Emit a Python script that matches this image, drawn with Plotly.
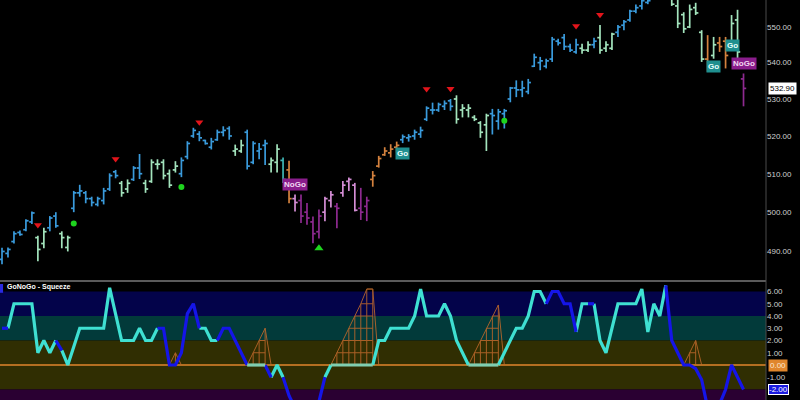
import math
import plotly.graph_objects as go

# ---------------- price data (one value per daily bar) ----------------
highs = [490.9, 491.0, 495.1, 495.3, 498.2, 500.2, 494.0, 496.0, 499.0, 500.0,
         495.1, 494.0, 505.5, 507.1, 505.5, 504.0, 504.0, 506.3, 510.1, 511.0,
         508.1, 508.5, 512.0, 515.2, 508.4, 513.8, 513.8, 513.8, 511.1, 513.3,
         514.3, 518.6, 522.2, 521.3, 519.0, 519.5, 521.7, 522.6, 522.6, 517.7,
         519.0, 521.7, 518.6, 518.1, 519.0, 514.3, 517.8, 514.3, 513.4, 504.6,
         504.6, 502.4, 498.9, 500.7, 504.0, 505.5, 502.4, 508.1, 509.0, 507.6,
         506.3, 504.0, 510.7, 514.7, 517.0, 517.8, 518.5, 520.4, 520.5, 521.7,
         522.5, 528.0, 529.0, 529.0, 529.6, 530.0, 531.0, 528.6, 528.6, 525.6,
         524.0, 526.0, 527.3, 527.3, 527.3, 533.3, 535.1, 535.0, 535.5, 542.5,
         541.6, 541.1, 547.2, 546.7, 548.0, 545.3, 546.7, 545.3, 546.0, 547.0,
         550.6, 546.0, 548.4, 550.6, 552.0, 554.9, 556.4, 558.5, 559.5, 562.0,
         563.0, 565.0, 562.0, 558.0, 554.2, 556.4, 556.9, 549.1, 547.7, 547.2,
         547.2, 547.2, 553.4, 554.9, 537.0]
lows = [486.8, 488.5, 492.0, 494.0, 495.1, 497.0, 487.5, 490.8, 495.1, 496.0,
        490.8, 490.0, 500.0, 504.0, 502.3, 501.5, 501.5, 502.0, 505.5, 508.8,
        504.0, 505.0, 508.1, 508.6, 505.0, 507.6, 511.1, 508.5, 506.3, 510.3,
        509.1, 513.8, 519.5, 518.6, 517.7, 516.4, 518.7, 519.9, 519.0, 514.7,
        515.5, 511.1, 512.5, 513.8, 512.3, 510.3, 510.3, 507.6, 502.3, 500.2,
        497.2, 496.8, 492.1, 493.3, 497.7, 501.2, 495.9, 504.0, 505.5, 500.2,
        498.0, 497.7, 506.6, 511.6, 514.7, 514.3, 515.5, 518.1, 518.5, 519.0,
        519.5, 524.0, 525.8, 526.5, 527.0, 526.8, 523.3, 525.0, 525.0, 524.0,
        519.5, 516.0, 520.4, 521.7, 522.0, 529.1, 530.5, 530.5, 531.3, 538.8,
        537.9, 538.4, 540.2, 544.8, 543.5, 543.0, 542.5, 542.5, 543.0, 544.0,
        542.5, 543.0, 543.5, 547.2, 549.1, 551.5, 553.9, 555.0, 556.5, 558.0,
        559.0, 560.0, 556.0, 549.7, 548.3, 549.7, 553.4, 540.2, 537.5, 541.1,
        543.0, 538.4, 545.3, 540.2, 528.0]
opens = [488.0, 489.5, 492.5, 494.8, 495.5, 497.5, 493.5, 492.0, 496.0, 499.0,
         494.5, 491.0, 501.0, 505.0, 505.0, 503.5, 502.0, 503.0, 506.0, 510.5,
         507.5, 506.0, 508.5, 511.5, 507.5, 508.0, 512.5, 513.0, 510.0, 511.0,
         510.0, 514.5, 520.0, 520.5, 518.8, 517.0, 519.0, 521.0, 522.0, 516.0,
         516.0, 521.0, 513.0, 516.0, 517.5, 512.5, 513.0, 513.5, 511.0, 503.5,
         503.0, 500.0, 497.5, 495.0, 500.0, 503.0, 501.5, 505.0, 508.0, 507.0,
         501.0, 501.5, 508.5, 512.0, 515.0, 515.5, 517.0, 519.0, 519.5, 520.0,
         520.5, 524.5, 527.0, 527.0, 528.0, 529.5, 530.0, 527.0, 527.0, 525.0,
         523.5, 523.0, 526.0, 524.0, 526.0, 530.0, 533.0, 532.5, 532.0, 539.0,
         540.0, 539.0, 541.0, 546.0, 547.0, 544.5, 543.0, 544.0, 543.5, 545.0,
         547.0, 544.0, 544.0, 548.5, 550.5, 552.0, 554.5, 556.0, 557.0, 558.5,
         560.0, 561.0, 559.0, 556.0, 553.5, 550.0, 555.5, 548.5, 541.0, 542.0,
         545.5, 546.0, 546.0, 552.0, 535.5]
closes = [490.0, 490.5, 494.5, 494.3, 497.8, 499.8, 490.5, 495.0, 498.5, 496.5,
          493.5, 493.5, 505.0, 505.5, 503.5, 502.5, 503.5, 505.5, 509.5, 509.5,
          505.0, 507.5, 511.5, 510.0, 506.0, 513.0, 512.5, 509.5, 507.0, 512.0,
          513.5, 518.0, 521.5, 519.5, 518.0, 518.5, 521.0, 521.5, 520.0, 516.5,
          517.5, 512.0, 518.0, 516.5, 518.0, 513.5, 516.5, 508.5, 503.5, 502.5,
          499.0, 498.5, 494.5, 499.0, 503.5, 504.5, 501.0, 507.0, 508.5, 500.5,
          500.0, 503.0, 509.5, 514.0, 516.0, 516.5, 517.5, 519.8, 519.8, 521.0,
          521.5, 527.5, 527.0, 528.5, 528.8, 528.0, 524.5, 527.5, 527.5, 524.5,
          521.0, 525.5, 525.5, 526.5, 526.8, 533.0, 532.5, 533.0, 534.5, 541.5,
          540.5, 540.5, 546.5, 545.5, 544.5, 543.5, 545.0, 543.5, 545.0, 546.0,
          543.5, 545.0, 548.0, 550.0, 551.5, 554.5, 555.5, 557.5, 557.5, 560.0,
          561.5, 562.0, 556.5, 551.0, 549.5, 555.0, 554.0, 541.0, 538.5, 545.0,
          544.5, 542.0, 551.0, 543.0, 532.9]
# GoNoGo trend colour of each bar: b=Go, g=Go fading, a=aqua, o=amber, p=NoGo, l=NoGo fading
bar_state = list("bbbbbb" "gg" "bb" "gg" "bbbbbbbb" "gg" "bb" "gggggg" "bbbbbbbbb" "gg"
                 "bbbb" "gg" "a" "o" "l" "pppp" "ll" "p" "lll" "pp" "ooooo" "bbbbbbbbb"
                 "gggggg" "bbbbbbbbbbbbbbb" "gg" "b" "ggg" "bbbbbbbbb" "gggggg" "o" "g" "oo"
                 "gg" "p")

# signal markers (bar index, price level)
sell_idx = [6, 19, 33, 71, 75, 96, 100]
sell_px = [496.7, 513.9, 523.7, 532.7, 532.8, 550.3, 553.5]
dot_idx = [12, 30, 84]
dot_px = [497.1, 506.5, 524.1]
buy_idx = [53]
buy_px = [490.8]

# Go / NoGo flags (bar index, price level)
flag_text = ["NoGo", "Go", "Go", "Go", "NoGo"]
flag_idx = [49.0, 66.9, 119.0, 122.2, 124.1]
flag_px = [507.3, 515.4, 539.0, 544.9, 539.7]

price_ticks = [490, 500, 510, 520, 530, 540, 550]
last_close = 532.90

# ---------------- oscillator ----------------
osc = [3, 3, 5, 5, 5, 5, 1, 2, 1, 2,
       1.2, 0, 1.5, 3, 3, 3, 3, 3, 6.3, 4.2,
       2, 2, 2, 3, 2, 2, 3, 3, 0, 0,
       1, 4.2, 5, 3, 3, 2, 2, 3, 3, 2,
       1, 0, 0, 0, 0, -1, 0, -1, -2.5, -3.5,
       -4, -4, -3.8, -3, -1, 0, 0, 0, 0, 0,
       0, 0, 0, 2, 2, 3, 3, 3, 3, 4,
       6.2, 4, 4, 4, 5, 4, 2, 1, 0, 0,
       0, 0, 0, 0, 1, 2, 3, 3, 4, 6,
       6, 5, 6, 6, 5, 5, 2.7, 5, 5, 5,
       2, 1, 3, 5, 5, 5, 5, 6.2, 2.7, 5,
       4, 6.5, 2, 1, 0, 0, -0.3, -1.2, -3.5, -3.8,
       -3.2, -2, 0, -1, -2]
# colour of the segment that ends at each point: c=cyan, b=blue, g=pale (flat at zero)
osc_seg = list("b" + "b" + "c" * 8 + "b" + "c" * 16 + "b" * 7 + "c" * 3 + "b" * 5 + "g" * 3 + "b" +
               "c" * 2 + "b" * 7 + "c" + "g" * 7 + "c" * 16 + "g" * 5 + "c" * 8 + "b" * 5 + "c" * 2 +
               "b" + "c" * 12 + "b" * 13)
# squeeze ladder height per bar
squeeze_idx = [29, 42, 43, 44, 56, 57, 58, 59, 60, 61, 62, 79, 80, 81, 82, 83, 115, 116]
squeeze_val = [1, 1, 2, 3, 1, 2, 3, 4, 5, 6.2, 6.2, 1, 2, 3, 4, 4.9, 1, 2]

osc_ticks = [6, 5, 4, 3, 2, 1, -1]

# ---------------- figure ----------------
N = len(closes)
assert len(bar_state) == N and len(osc) == N and len(osc_seg) == N
squeeze = [None] * N
for k, v in zip(squeeze_idx, squeeze_val):
    squeeze[k] = v

XR = [-0.334, 127.76]
TOP = [0.2975, 1.0]
BOT = [0.0, 0.2925]
FONT = "Arial"

BAR_COLORS = {"b": "#3a9bdc", "g": "#a3e4bd", "a": "#3fb6b6", "o": "#d4823e",
              "p": "#8e2a90", "l": "#d58ed6"}
OSC_COLORS = {"c": "#3fe0d2", "b": "#1515e8", "g": "#7fceb0"}

fig = go.Figure()

# price bars
for code, col in BAR_COLORS.items():
    xs, ys = [], []
    for i in range(N):
        if bar_state[i] != code:
            continue
        xs += [i, i, None, i - 0.45, i, None, i, i + 0.45, None]
        ys += [lows[i], highs[i], None, opens[i], opens[i], None, closes[i], closes[i], None]
    if xs:
        fig.add_trace(go.Scatter(x=xs, y=ys, mode="lines", line=dict(color=col, width=1.7),
                                 hoverinfo="skip", showlegend=False, xaxis="x", yaxis="y"))

fig.add_trace(go.Scatter(x=sell_idx, y=sell_px, mode="markers",
                         marker=dict(symbol="triangle-down", size=7, color="#e3141b"),
                         hoverinfo="skip", showlegend=False, xaxis="x", yaxis="y"))
fig.add_trace(go.Scatter(x=dot_idx, y=dot_px, mode="markers",
                         marker=dict(symbol="circle", size=6, color="#1ed41e"),
                         hoverinfo="skip", showlegend=False, xaxis="x", yaxis="y"))
fig.add_trace(go.Scatter(x=buy_idx, y=buy_px, mode="markers",
                         marker=dict(symbol="triangle-up", size=8, color="#1ed41e"),
                         hoverinfo="skip", showlegend=False, xaxis="x", yaxis="y"))

# squeeze ladder
lx, ly = [], []
i = 0
while i < N:
    if squeeze[i] is None:
        i += 1
        continue
    s = i
    while i < N and squeeze[i] is not None:
        i += 1
    e = i - 1
    lx += [s - 1] + list(range(s, e + 1)) + [e + 1, None]
    ly += [0] + [squeeze[k] for k in range(s, e + 1)] + [0, None]
    for k in range(s, e + 1):
        lx += [k, k, None, k, e, None]
        ly += [0, squeeze[k], None, squeeze[k], squeeze[k], None]
fig.add_trace(go.Scatter(x=lx, y=ly, mode="lines", line=dict(color="#c06a2c", width=1),
                         opacity=0.85, hoverinfo="skip", showlegend=False,
                         xaxis="x2", yaxis="y2"))

# oscillator line, coloured runs
for code, col in OSC_COLORS.items():
    xs, ys = [], []
    k = 1
    while k < N:
        if osc_seg[k] != code:
            k += 1
            continue
        s = k - 1
        while k < N and osc_seg[k] == code:
            k += 1
        for j in range(s, k):
            xs.append(j)
            ys.append(osc[j])
        xs.append(None)
        ys.append(None)
    fig.add_trace(go.Scatter(x=xs, y=ys, mode="lines", line=dict(color=col, width=3.2),
                             hoverinfo="skip", showlegend=False, xaxis="x2", yaxis="y2"))

# bands
shapes = []
for y0, y1, col in [(4, 6, "#03034a"), (2, 4, "#023a3a"), (-2, 2, "#302e02"), (-3, -2, "#2a0032")]:
    shapes.append(dict(type="rect", xref="x2 domain", yref="y2", x0=0, x1=1, y0=y0, y1=y1,
                       fillcolor=col, line=dict(width=0), layer="below"))
shapes.append(dict(type="line", xref="x2 domain", yref="y2", x0=0, x1=1, y0=0, y1=0,
                   line=dict(color="#e0862c", width=1.5), layer="below"))
shapes.append(dict(type="line", xref="paper", yref="paper", x0=0, x1=1,
                   y0=0.2975, y1=0.2975, line=dict(color="#5a5a5a", width=2)))
shapes.append(dict(type="line", xref="paper", yref="paper", x0=1, x1=1, y0=0, y1=1,
                   line=dict(color="#4a4a4a", width=1)))
shapes.append(dict(type="rect", xref="paper", yref="paper", x0=0, x1=0.004, y0=0.268, y1=0.29,
                   fillcolor="#2a2ae0", line=dict(width=0)))

annotations = []
for t, xi, p in zip(flag_text, flag_idx, flag_px):
    nogo = t == "NoGo"
    annotations.append(dict(x=xi, y=math.log10(p), xref="x", yref="y", text="<b>%s</b>" % t,
                            showarrow=False, font=dict(family=FONT, size=8,
                                                       color="#f2d8f2" if nogo else "#e8ffff"),
                            bgcolor="#8a1d8c" if nogo else "#1f8f8f", borderpad=1))
annotations.append(dict(x=1.003, y=math.log10(last_close), xref="paper", yref="y",
                        text="%.2f" % last_close, xanchor="left", showarrow=False,
                        font=dict(family=FONT, size=8, color="#000000"),
                        bgcolor="#ffffff", borderpad=1))
annotations.append(dict(x=1.003, y=0, xref="paper", yref="y2", text="0.00", xanchor="left",
                        showarrow=False, font=dict(family=FONT, size=8, color="#fbe6d0"),
                        bgcolor="#e0862c", borderpad=1))
annotations.append(dict(x=1.003, y=osc[-1], xref="paper", yref="y2", text="%.2f" % osc[-1],
                        xanchor="left", showarrow=False,
                        font=dict(family=FONT, size=8, color="#ffffff"),
                        bgcolor="#1a1ae0", bordercolor="#ffffff", borderwidth=1, borderpad=0))
annotations.append(dict(x=0.007, y=0.2825, xref="paper", yref="paper",
                        text="<b>GoNoGo - Squeeze</b>", xanchor="left", yanchor="middle",
                        showarrow=False, font=dict(family=FONT, size=7, color="#ffffff")))

fig.update_layout(
    width=800, height=400,
    margin=dict(l=0, r=34, t=0, b=0),
    paper_bgcolor="#000000", plot_bgcolor="#000000",
    showlegend=False,
    xaxis=dict(domain=[0, 1], range=XR, visible=False, anchor="y"),
    xaxis2=dict(domain=[0, 1], range=XR, visible=False, anchor="y2"),
    yaxis=dict(domain=TOP, type="log", range=[math.log10(482.6), math.log10(557.7)],
               side="right", tickvals=price_ticks, ticktext=["%.2f" % v for v in price_ticks],
               showgrid=False, zeroline=False, showline=False, ticks="",
               tickfont=dict(family=FONT, size=8, color="#cfcfcf")),
    yaxis2=dict(domain=BOT, range=[-2.857, 6.694], side="right", tickvals=osc_ticks,
                ticktext=["%.2f" % v for v in osc_ticks], showgrid=False, zeroline=False,
                showline=False, ticks="", tickfont=dict(family=FONT, size=8, color="#cfcfcf")),
    shapes=shapes,
    annotations=annotations,
)

fig.write_html("out.html", config={"displayModeBar": False},
               post_script="document.body.style.margin='0';document.body.style.background='#000';")
